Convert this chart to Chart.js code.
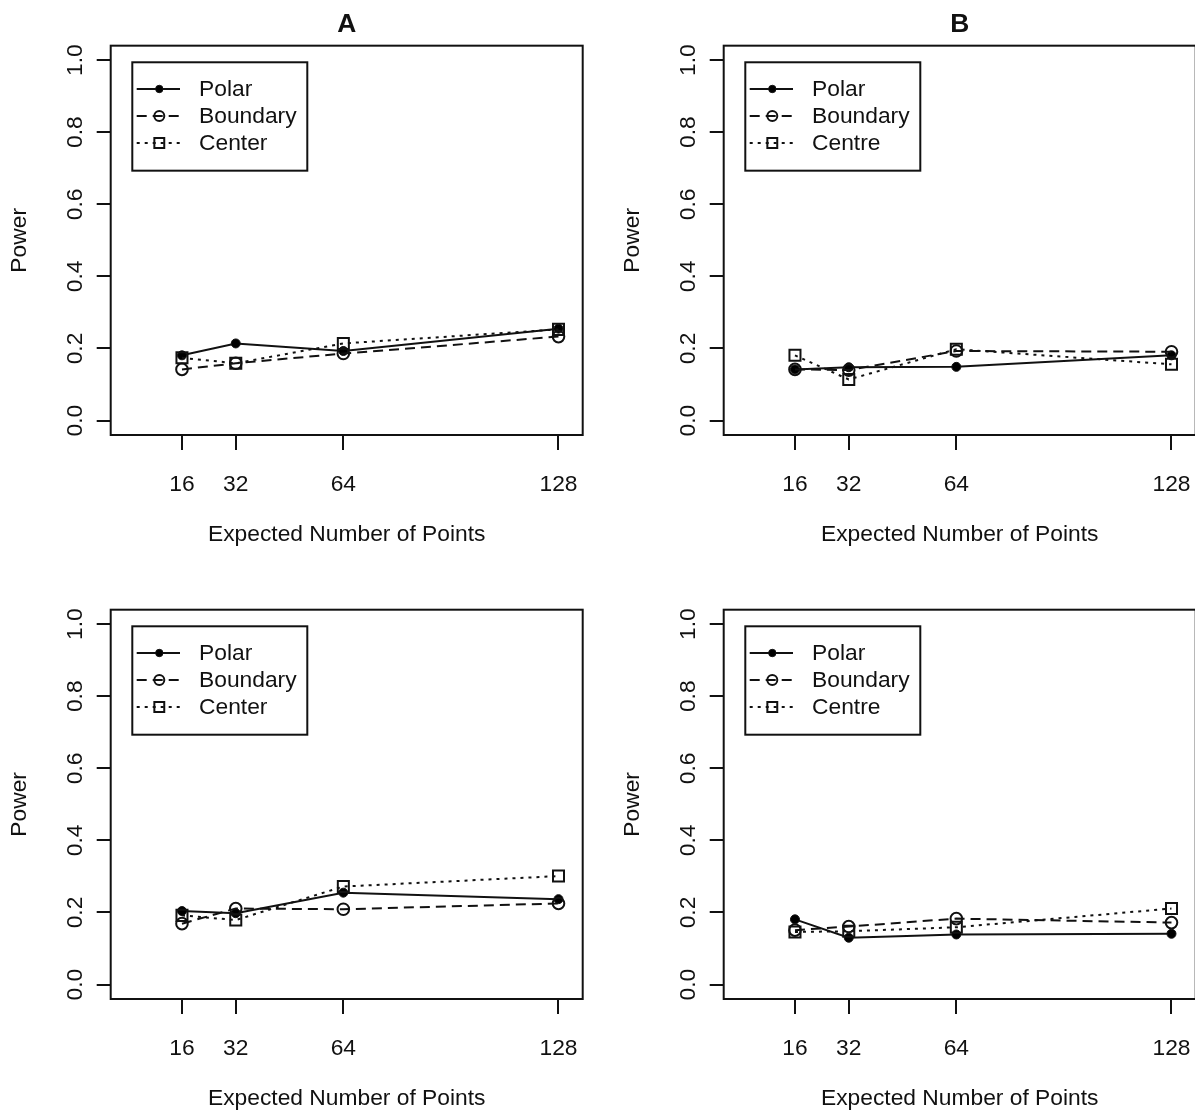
<!DOCTYPE html>
<html>
<head>
<meta charset="utf-8">
<script src="https://cdn.jsdelivr.net/npm/chart.js@4.4.1/dist/chart.umd.min.js"></script>
<style>
  html, body { margin: 0; padding: 0; background: #fff; overflow: hidden; }
  #wrap { position: relative; width: 1195px; height: 1111px; overflow: hidden; }
  .panel { position: absolute; }
</style>
</head>
<body>
<div id="wrap">
  <canvas class="panel" id="pA" width="600" height="564" style="left:0;top:0"></canvas>
  <canvas class="panel" id="pB" width="600" height="564" style="left:613px;top:0"></canvas>
  <canvas class="panel" id="pC" width="600" height="564" style="left:0;top:564px"></canvas>
  <canvas class="panel" id="pD" width="600" height="564" style="left:613px;top:564px"></canvas>
</div>
<script>
// expected number of points (x) and power tick labels (y)
var xPoints = [16, 32, 64, 128];
var yTicks = [0, 0.2, 0.4, 0.6, 0.8, 1.0];

// top left (A)
var polarA    = [0.181, 0.214, 0.193, 0.255];
var boundaryA = [0.142, 0.159, 0.186, 0.233];
var centerA   = [0.174, 0.159, 0.214, 0.253];

// top right (B)
var polarB    = [0.142, 0.148, 0.149, 0.181];
var boundaryB = [0.142, 0.140, 0.193, 0.191];
var centreB   = [0.181, 0.114, 0.198, 0.156];

// bottom left
var polarC    = [0.204, 0.198, 0.255, 0.237];
var boundaryC = [0.169, 0.211, 0.209, 0.225];
var centerC   = [0.192, 0.179, 0.272, 0.301];

// bottom right
var polarD    = [0.181, 0.130, 0.139, 0.141];
var boundaryD = [0.151, 0.161, 0.183, 0.172];
var centreD   = [0.146, 0.148, 0.159, 0.211];

var FONT = '"Liberation Sans", Arial, Helvetica, sans-serif';
var FS = 22.8;
var INK = '#111';

// line style of each series: Polar, Boundary, Center
var styles = [
  { dash: [],      pointStyle: 'circle', radius: 4.5, fill: '#000',          pw: 1 },
  { dash: [10, 6], pointStyle: 'circle', radius: 5.8, fill: 'rgba(0,0,0,0)', pw: 2 },
  { dash: [3, 5],  pointStyle: 'rect',   radius: 7.8, fill: 'rgba(0,0,0,0)', pw: 2 }
];

// R style plot frame
var framePlugin = {
  id: 'frame',
  afterDatasetsDraw: function(chart) {
    var a = chart.chartArea, ctx = chart.ctx;
    ctx.save();
    ctx.strokeStyle = INK;
    ctx.lineWidth = 2;
    ctx.setLineDash([]);
    ctx.strokeRect(a.left, a.top, a.right - a.left, a.bottom - a.top);
    ctx.restore();
  }
};

// R style legend with line samples
var rLegend = {
  id: 'rLegend',
  afterDatasetsDraw: function(chart) {
    var a = chart.chartArea, ctx = chart.ctx;
    var bx = a.left + 21.6, by = a.top + 16.6, bw = 175, bh = 108.4;
    ctx.save();
    ctx.fillStyle = '#fff';
    ctx.fillRect(bx, by, bw, bh);
    ctx.strokeStyle = INK;
    ctx.lineWidth = 2;
    ctx.setLineDash([]);
    ctx.strokeRect(bx, by, bw, bh);
    chart.data.datasets.forEach(function(ds, i) {
      var y = by + 26.7 + i * 27;
      ctx.save();
      ctx.setLineDash(ds.borderDash || []);
      ctx.lineWidth = 2;
      ctx.strokeStyle = INK;
      ctx.beginPath();
      ctx.moveTo(bx + 4.4, y);
      ctx.lineTo(bx + 47.7, y);
      ctx.stroke();
      ctx.setLineDash([]);
      ctx.fillStyle = ds.pointBackgroundColor;
      ctx.lineWidth = ds.pointBorderWidth;
      Chart.helpers.drawPoint(ctx, {
        pointStyle: ds.pointStyle, radius: ds.pointRadius - 0.8,
        borderWidth: ds.pointBorderWidth, rotation: 0
      }, bx + 27, y);
      ctx.restore();
      ctx.fillStyle = INK;
      ctx.font = FS + 'px ' + FONT;
      ctx.textBaseline = 'middle';
      ctx.textAlign = 'left';
      ctx.fillText(ds.label, bx + 66.7, y + 1);
    });
    ctx.restore();
  }
};

function makePanel(id, title, names, series) {
  var sets = series.map(function(vals, i) {
    var s = styles[i];
    return {
      label: names[i],
      data: xPoints.map(function(x, j) { return { x: x, y: vals[j] }; }),
      borderColor: INK,
      borderWidth: 2,
      borderDash: s.dash,
      tension: 0,
      fill: false,
      pointStyle: s.pointStyle,
      pointRadius: s.radius,
      pointBackgroundColor: s.fill,
      pointBorderColor: INK,
      pointBorderWidth: s.pw,
      order: 3 - i
    };
  });

  new Chart(document.getElementById(id), {
    type: 'line',
    data: { datasets: sets },
    options: {
      responsive: false,
      animation: false,
      layout: { padding: { left: 0, right: 17.3, top: title ? 0 : 45.7, bottom: 0 } },
      plugins: {
        legend: { display: false },
        tooltip: { enabled: false },
        title: {
          display: !!title,
          text: title,
          fullSize: false,
          color: INK,
          font: { family: FONT, size: 26.4, weight: 'bold', lineHeight: 1.2 },
          padding: { top: 9, bottom: 5 }
        }
      },
      scales: {
        x: {
          type: 'linear',
          min: -5.2,
          max: 135.2,
          afterBuildTicks: function(s) { s.ticks = xPoints.map(function(v) { return { value: v }; }); },
          afterFit: function(s) { s.height = 129; },
          border: { display: false },
          grid: { drawOnChartArea: false, tickLength: 15, color: INK, lineWidth: 2 },
          ticks: {
            autoSkip: false, maxRotation: 0, padding: 21, color: INK,
            font: { family: FONT, size: FS },
            callback: function(v) { return String(v); }
          },
          title: {
            display: true, text: 'Expected Number of Points', color: INK,
            font: { family: FONT, size: FS }, padding: { top: 0, bottom: 15.5 }
          }
        },
        y: {
          min: -0.04,
          max: 1.04,
          afterBuildTicks: function(s) { s.ticks = yTicks.map(function(v) { return { value: v }; }); },
          afterFit: function(s) { s.width = 110.7; },
          border: { display: false },
          grid: { drawOnChartArea: false, tickLength: 14, color: INK, lineWidth: 2 },
          ticks: {
            autoSkip: false, minRotation: 90, maxRotation: 90, crossAlign: 'center',
            padding: 5.5, color: INK, font: { family: FONT, size: FS },
            callback: function(v) { return Number(v).toFixed(1); }
          },
          title: {
            display: true, text: 'Power', color: INK,
            font: { family: FONT, size: FS }, padding: { top: 6, bottom: 0 }
          }
        }
      }
    },
    plugins: [framePlugin, rLegend]
  });
}

makePanel('pA', 'A', ['Polar', 'Boundary', 'Center'], [polarA, boundaryA, centerA]);
makePanel('pB', 'B', ['Polar', 'Boundary', 'Centre'], [polarB, boundaryB, centreB]);
makePanel('pC', '', ['Polar', 'Boundary', 'Center'], [polarC, boundaryC, centerC]);
makePanel('pD', '', ['Polar', 'Boundary', 'Centre'], [polarD, boundaryD, centreD]);
</script>
</body>
</html>
